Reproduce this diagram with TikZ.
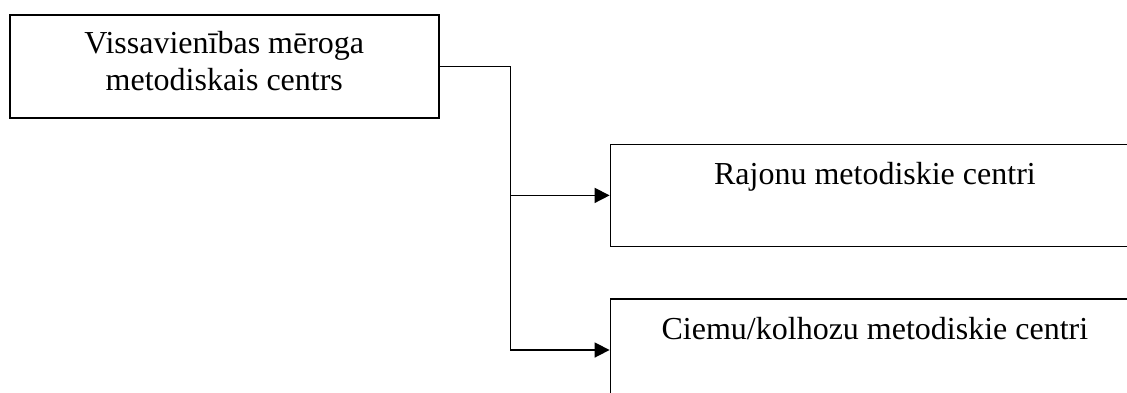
\documentclass[tikz,border=0pt]{standalone}
\usepackage{fontspec}
\setmainfont{Liberation Serif}
\usetikzlibrary{positioning,arrows.meta}

\tikzset{
  centre/.style={draw, line width=1.6pt, inner sep=0pt, align=center,
    font=\fontsize{32}{37}\selectfont},
  link/.style={line width=1.6pt},
  arrow/.style={link, -{Triangle[length=15pt,width=15pt]}}
}

\begin{document}
\begin{tikzpicture}[node distance=1cm]
\useasboundingbox (0,0) rectangle (1127pt,-392pt);
\node (vsmc)[centre, anchor=north west, minimum width=429pt, text height=76pt, text depth=27pt] at (9pt,-14pt) {Vissavienības mēroga\\metodiskais centrs};
\node (raj)[centre, below right=25pt and 170pt of vsmc.south east, anchor=north west, minimum width=529pt, text height=40pt, text depth=62pt] {Rajonu metodiskie centri};
\node (ciem)[centre, below=51pt of raj.south west, anchor=north west, minimum width=529pt, text height=40pt, text depth=62pt] {Ciemu/kolhozu metodiskie centri};
\coordinate[right=71pt of vsmc.east] (fork);

\draw[link] (vsmc.east) -- (fork);
\draw[arrow] (fork) |- (raj.west);
\draw[arrow] (fork) |- (ciem.west);
\end{tikzpicture}
\end{document}
